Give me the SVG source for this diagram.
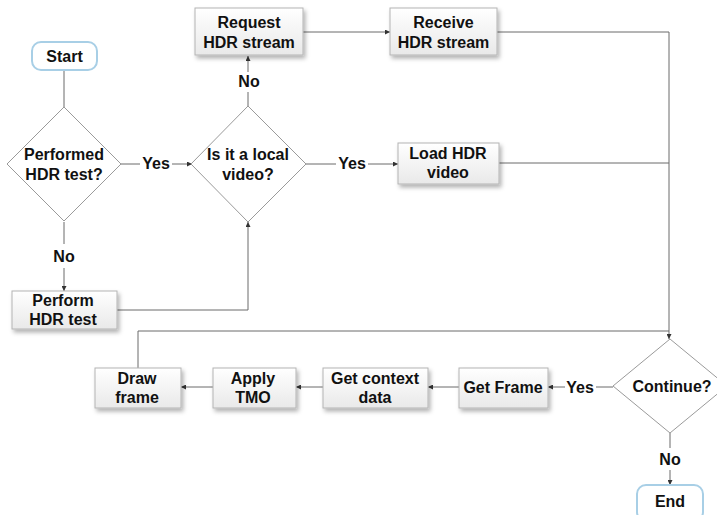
<svg xmlns="http://www.w3.org/2000/svg" width="717" height="515" viewBox="0 0 717 515">
<style>
text{font-family:"Liberation Sans",Arial,sans-serif;font-size:16px;font-weight:bold;fill:#111;text-anchor:middle}
.box{fill:url(#g);stroke:#b4b4b4;stroke-width:1;filter:url(#sh)}
.term{fill:#fff;stroke:#a8cfe6;stroke-width:2}
.dia{fill:#fff;stroke:#9a9a9a;stroke-width:1}
.c{fill:none;stroke:#6a6a6a;stroke-width:1}
.a{marker-end:url(#ar)}
</style>
<defs>
<linearGradient id="g" x1="0" y1="0" x2="0" y2="1"><stop offset="0" stop-color="#ffffff"/><stop offset="1" stop-color="#e9e9e9"/></linearGradient>
<filter id="sh" x="-10%" y="-10%" width="130%" height="140%"><feDropShadow dx="2" dy="3" stdDeviation="2" flood-color="#000" flood-opacity="0.3"/></filter>
<marker id="ar" viewBox="0 0 6 6" refX="6" refY="3" markerWidth="5" markerHeight="5" orient="auto" markerUnits="userSpaceOnUse"><path d="M0,0 L6,3 L0,6 z" fill="#333"/></marker>
</defs>
<g id="connectors">
<path class="c" d="M64,70 V107"/>
<path class="c" d="M121,164 H140"/><path class="c a" d="M172,164 H192"/>
<path class="c" d="M64,222 V244"/><path class="c a" d="M64,268 V291"/>
<path class="c a" d="M117,310 H248 V222"/>
<path class="c" d="M248,106 V92"/><path class="c a" d="M248,72 V56"/>
<path class="c" d="M306,164 H336"/><path class="c a" d="M368,164 H398"/>
<path class="c a" d="M303,32 H390"/>
<path class="c a" d="M497,32 H669 V339"/>
<path class="c" d="M499,163 H669"/>
<path class="c" d="M138,368 V331 H669"/>
<path class="c" d="M613,387 H596"/><path class="c a" d="M565,387 H548"/>
<path class="c a" d="M459,387 H428"/>
<path class="c a" d="M323,387 H296"/>
<path class="c a" d="M213,387 H181"/>
<path class="c" d="M670,433 V448"/><path class="c a" d="M670,470 V485"/>
<text x="156" y="169">Yes</text>
<text x="64" y="262">No</text>
<text x="249" y="87">No</text>
<text x="352" y="169">Yes</text>
<text x="580" y="393">Yes</text>
<text x="670" y="465">No</text>
</g>
<g id="start"><rect class="term" x="32" y="42" width="65" height="28" rx="9"/><text x="64.5" y="62">Start</text></g>
<g id="performed"><polygon class="dia" points="64,107 121,164 64,221 7,164"/><text x="64" y="160">Performed</text><text x="64" y="180">HDR test?</text></g>
<g id="local"><polygon class="dia" points="248,106 306,164 248,222 191,164"/><text x="248" y="160">Is it a local</text><text x="248" y="180">video?</text></g>
<g id="request"><rect class="box" x="195" y="8" width="108" height="47"/><text x="249" y="28">Request</text><text x="249" y="48">HDR stream</text></g>
<g id="receive"><rect class="box" x="390" y="8" width="107" height="47"/><text x="443.5" y="28">Receive</text><text x="443.5" y="48">HDR stream</text></g>
<g id="load"><rect class="box" x="398" y="143" width="101" height="41"/><text x="448" y="159">Load HDR</text><text x="448" y="178">video</text></g>
<g id="perform"><rect class="box" x="12" y="291" width="105" height="38"/><text x="63" y="306">Perform</text><text x="63" y="325">HDR test</text></g>
<g id="draw"><rect class="box" x="95" y="368" width="86" height="40"/><text x="137" y="384">Draw</text><text x="137" y="403">frame</text></g>
<g id="apply"><rect class="box" x="213" y="368" width="83" height="40"/><text x="253" y="384">Apply</text><text x="253" y="403">TMO</text></g>
<g id="context"><rect class="box" x="323" y="368" width="105" height="40"/><text x="375" y="384">Get context</text><text x="375" y="403">data</text></g>
<g id="getframe"><rect class="box" x="459" y="368" width="89" height="40"/><text x="503" y="393">Get Frame</text></g>
<g id="continue"><polygon class="dia" points="670,339 727,386 670,433 613,386"/><text x="672" y="392">Continue?</text></g>
<g id="end"><rect class="term" x="637" y="485" width="66" height="36" rx="9"/><text x="670" y="507">End</text></g>
</svg>
